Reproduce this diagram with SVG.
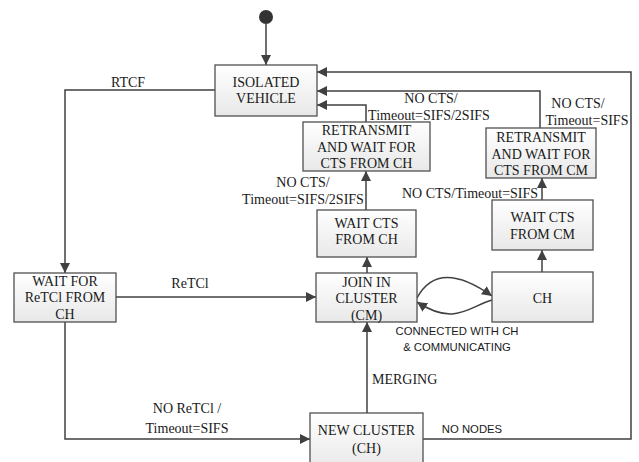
<svg xmlns="http://www.w3.org/2000/svg" width="639" height="462" viewBox="0 0 639 462">
<defs>
<linearGradient id="g" x1="0" y1="0" x2="0" y2="1">
<stop offset="0" stop-color="#ffffff"/>
<stop offset="1" stop-color="#e8e8e8"/>
</linearGradient>
<marker id="ah" viewBox="0 0 10 10" refX="10" refY="5" markerWidth="10" markerHeight="10" markerUnits="userSpaceOnUse" orient="auto">
<path d="M0,0 L10,5 L0,10 Z" fill="#404040"/>
</marker>
<style>
.box{fill:url(#g);stroke:#505050;stroke-width:1.3}
.t{font-family:"Liberation Serif","Times New Roman",serif;font-size:14px;fill:#1a1a1a;text-anchor:middle}
.s{font-family:"Liberation Sans",Arial,sans-serif;font-size:11.3px;fill:#1a1a1a;text-anchor:middle}
.c{fill:none;stroke:#404040;stroke-width:1.5;marker-end:url(#ah)}
</style>
</defs>
<rect width="639" height="462" fill="#ffffff"/>
<g id="connectors">
<circle cx="266" cy="17" r="7" fill="#333333"/>
<path class="c" d="M266,24 V65"/>
<path class="c" d="M215,90 H65 V273"/>
<path class="c" d="M116,297 H316"/>
<path class="c" d="M65,322 V439 H310"/>
<path class="c" d="M367,413 V322"/>
<path class="c" d="M423,439 H631 V72 H317"/>
<path class="c" d="M367,273 V257"/>
<path class="c" d="M366,210 V171"/>
<path class="c" d="M366,122 V105 H317"/>
<path class="c" d="M417,298 C432,270 458,272 492,296"/>
<path class="c" d="M492,300 C470,306 455,327 417,302"/>
<path class="c" d="M542,272 V250"/>
<path class="c" d="M542,200 V178"/>
<path class="c" d="M540,128 V91 H317"/>
<text class="t" x="128" y="87">RTCF</text>
<text class="t" x="190" y="288">ReTCl</text>
<text class="t" x="303" y="187">NO CTS/</text>
<text class="t" x="303" y="204">Timeout=SIFS/2SIFS</text>
<text class="t" x="431" y="103">NO CTS/</text>
<text class="t" x="429" y="120">Timeout=SIFS/2SIFS</text>
<text class="t" x="470" y="198">NO CTS/Timeout=SIFS</text>
<text class="t" x="578" y="108">NO CTS/</text>
<text class="t" x="587" y="125">Timeout=SIFS</text>
<text class="s" x="457" y="335">CONNECTED WITH CH</text>
<text class="s" x="457" y="351">&amp; COMMUNICATING</text>
<text class="t" x="372" y="384" style="text-anchor:start">MERGING</text>
<text class="t" x="187" y="413">NO ReTCl /</text>
<text class="t" x="187" y="433">Timeout=SIFS</text>
<text class="s" x="472" y="433">NO NODES</text>
</g>
<g id="isolated">
<rect class="box" x="215" y="65" width="102" height="51"/>
<text class="t" x="266" y="87">ISOLATED</text>
<text class="t" x="266" y="103">VEHICLE</text>
</g>
<g id="retransmit-ch">
<rect class="box" x="303" y="122" width="127" height="49"/>
<text class="t" x="366.5" y="135">RETRANSMIT</text>
<text class="t" x="366.5" y="152">AND WAIT FOR</text>
<text class="t" x="366.5" y="168">CTS FROM CH</text>
</g>
<g id="wait-cts-ch">
<rect class="box" x="317" y="210" width="99" height="47"/>
<text class="t" x="366.5" y="228">WAIT CTS</text>
<text class="t" x="366.5" y="244">FROM CH</text>
</g>
<g id="join">
<rect class="box" x="316" y="273" width="101" height="49"/>
<text class="t" x="366.5" y="287">JOIN IN</text>
<text class="t" x="366.5" y="303">CLUSTER</text>
<text class="t" x="366.5" y="320">(CM)</text>
</g>
<g id="ch">
<rect class="box" x="492" y="272" width="101" height="50"/>
<text class="t" x="542.5" y="303">CH</text>
</g>
<g id="wait-cts-cm">
<rect class="box" x="492" y="200" width="101" height="50"/>
<text class="t" x="542.5" y="222">WAIT CTS</text>
<text class="t" x="542.5" y="239">FROM CM</text>
</g>
<g id="retransmit-cm">
<rect class="box" x="486" y="128" width="110" height="50"/>
<text class="t" x="541" y="142">RETRANSMIT</text>
<text class="t" x="541" y="159">AND WAIT FOR</text>
<text class="t" x="541" y="175">CTS FROM CM</text>
</g>
<g id="wait-for">
<rect class="box" x="14" y="273" width="102" height="49"/>
<text class="t" x="65" y="286">WAIT FOR</text>
<text class="t" x="65" y="302">ReTCl FROM</text>
<text class="t" x="65" y="319">CH</text>
</g>
<g id="new-cluster">
<rect class="box" x="310" y="413" width="113" height="56"/>
<text class="t" x="366.5" y="435">NEW CLUSTER</text>
<text class="t" x="366.5" y="453">(CH)</text>
</g>
</svg>
